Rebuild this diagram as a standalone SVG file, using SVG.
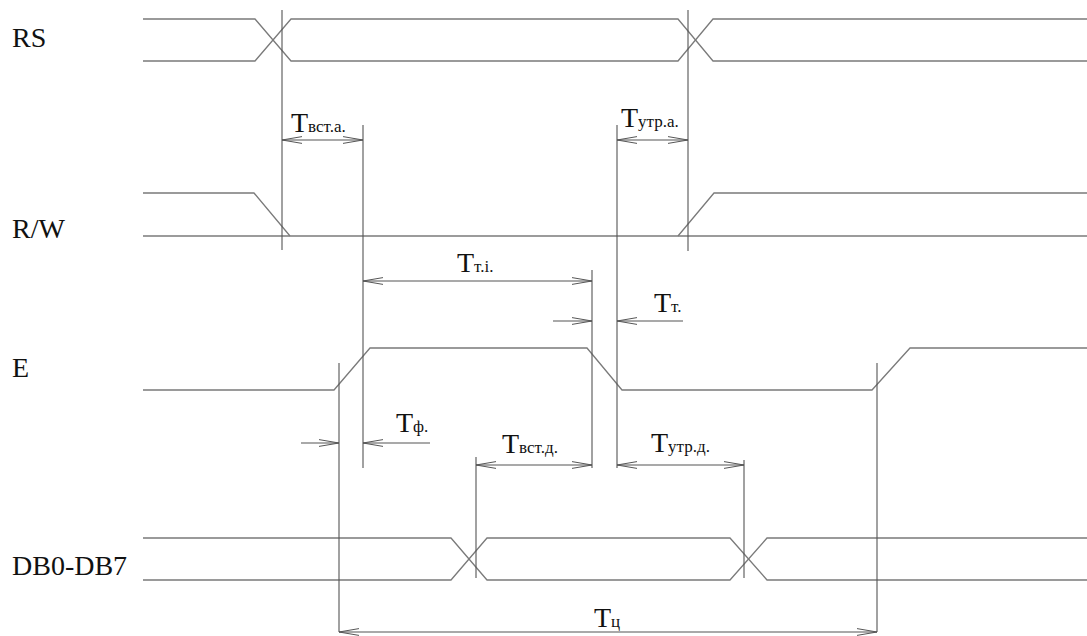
<svg xmlns="http://www.w3.org/2000/svg" width="1087" height="636" viewBox="0 0 1087 636">
<style>
.sig{fill:none;stroke:#7a7a7a;stroke-width:1.3}
.ref{fill:none;stroke:#555;stroke-width:1.1}
.dim{fill:none;stroke:#555;stroke-width:1.1}
.lbl{font-family:"Liberation Serif","Times New Roman",serif;font-size:28px;fill:#111}
.t{font-family:"Liberation Serif","Times New Roman",serif;font-size:28px;fill:#111}
.s{font-size:17px}
</style>
<defs>
<marker id="ah" viewBox="0 0 20 8" refX="20" refY="4" markerWidth="20" markerHeight="8" markerUnits="userSpaceOnUse" orient="auto-start-reverse">
<path d="M0,0.6 L20,4 L0,7.4" fill="none" stroke="#555" stroke-width="1"/>
</marker>
</defs>
<rect width="1087" height="636" fill="#fff"/>
<g id="RS">
<text class="lbl" x="12" y="47">RS</text>
<path class="sig" d="M143,19 H255 L291,61 H678 L713,19 H1087"/>
<path class="sig" d="M143,61 H255 L291,19 H678 L713,61 H1087"/>
</g>
<g id="RW">
<text class="lbl" x="12" y="238">R/W</text>
<path class="sig" d="M143,193 H254 L290,236"/>
<path class="sig" d="M143,236 H1087"/>
<path class="sig" d="M678,236 L714,193 H1087"/>
</g>
<g id="E">
<text class="lbl" x="12" y="377">E</text>
<path class="sig" d="M143,390 H334 L370,348 H587 L622,390 H872 L910,348 H1087"/>
</g>
<g id="DB">
<text class="lbl" x="12" y="575">DB0-DB7</text>
<path class="sig" d="M143,538 H451 L487,580 H730 L767,538 H1087"/>
<path class="sig" d="M143,580 H451 L487,538 H730 L767,580 H1087"/>
</g>
<g id="connectors">
<path class="ref" d="M282,10 V250 M688,10 V251 M363,125 V468 M617,125 V468 M592,270 V468 M339,363 V632 M877,363 V632 M476,457 V578 M744,460 V578"/>
<line class="dim" x1="282" y1="140" x2="363" y2="140" marker-start="url(#ah)" marker-end="url(#ah)"/>
<line class="dim" x1="617" y1="140" x2="688" y2="140" marker-start="url(#ah)" marker-end="url(#ah)"/>
<line class="dim" x1="363" y1="281" x2="592" y2="281" marker-start="url(#ah)" marker-end="url(#ah)"/>
<line class="dim" x1="553" y1="321" x2="592" y2="321" marker-end="url(#ah)"/>
<line class="dim" x1="683" y1="321" x2="617" y2="321" marker-end="url(#ah)"/>
<line class="dim" x1="301" y1="443" x2="339" y2="443" marker-end="url(#ah)"/>
<line class="dim" x1="430" y1="443" x2="363" y2="443" marker-end="url(#ah)"/>
<line class="dim" x1="476" y1="465" x2="592" y2="465" marker-start="url(#ah)" marker-end="url(#ah)"/>
<line class="dim" x1="617" y1="465" x2="744" y2="465" marker-start="url(#ah)" marker-end="url(#ah)"/>
<line class="dim" x1="339" y1="632" x2="877" y2="632" marker-start="url(#ah)" marker-end="url(#ah)"/>
</g>
<g id="labels">
<text class="t" x="291" y="132">T<tspan class="s">вст.а.</tspan></text>
<text class="t" x="621" y="127">T<tspan class="s">утр.а.</tspan></text>
<text class="t" x="457" y="272">T<tspan class="s">т.і.</tspan></text>
<text class="t" x="654" y="312">T<tspan class="s">т.</tspan></text>
<text class="t" x="396" y="432">T<tspan class="s">ф.</tspan></text>
<text class="t" x="502" y="453">T<tspan class="s">вст.д.</tspan></text>
<text class="t" x="651" y="452">T<tspan class="s">утр.д.</tspan></text>
<text class="t" x="594" y="627">T<tspan class="s">ц</tspan></text>
</g>
</svg>
